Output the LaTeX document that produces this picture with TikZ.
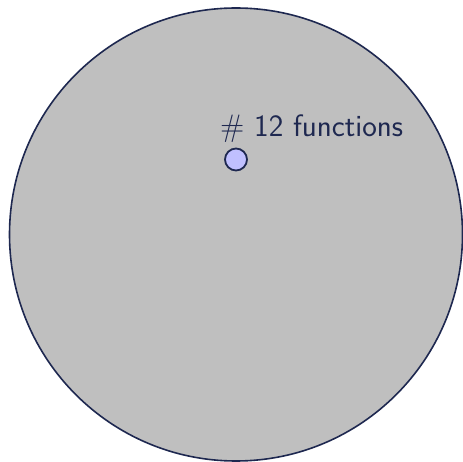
\documentclass[tikz,border=0pt]{standalone}
\usepackage{fontspec}
\definecolor{navy}{RGB}{30,40,80}
\definecolor{fillgray}{RGB}{191,191,191}
\definecolor{lav}{RGB}{192,192,255}
\tikzset{
  bigc/.style={circle, draw=navy, fill=fillgray, line width=1.6pt, minimum size=453pt, inner sep=0pt},
  smallc/.style={circle, draw=navy, fill=lav, line width=1.8pt, minimum size=22pt, inner sep=0pt},
  lbl/.style={text=navy, font=\sffamily\fontsize{31}{34}\selectfont, inner sep=0pt, anchor=base west}
}
\begin{document}
\begin{tikzpicture}[x=1pt,y=-1pt]
\useasboundingbox (0,0) rectangle (463,462);
\node[bigc] (outer) at (236,234.5) {};
\node[smallc] (dot) at (236,159.5) {};
\node[lbl] (label) at (220,137) {\# 12 functions};
\end{tikzpicture}
\end{document}
